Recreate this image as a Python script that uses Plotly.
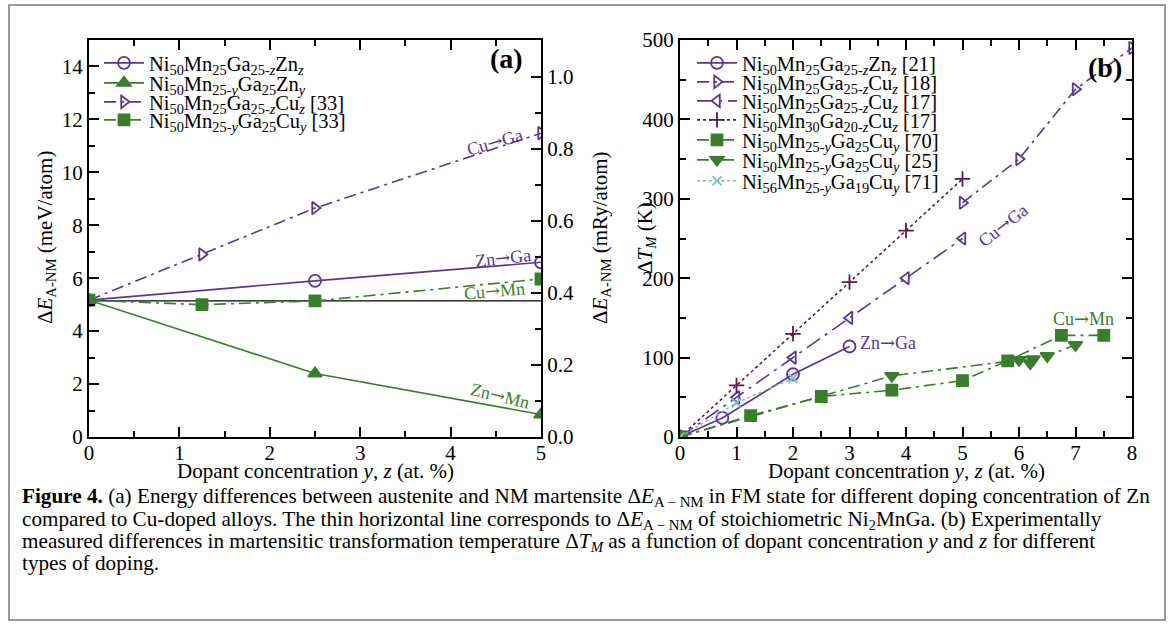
import plotly.graph_objects as go

W, H = 1171, 630

# ---------------- data: panel (a) ----------------
a_x3 = [0, 2.5, 5]
a_x4 = [0, 1.25, 2.5, 5]
a_zn_ga = [5.17, 5.9, 6.6]
a_zn_mn = [5.17, 2.4, 0.85]
a_cu_ga = [5.17, 6.9, 8.65, 11.48]
a_cu_mn = [5.17, 5.0, 5.14, 5.97]
a_stoich = [5.14, 5.14]
a_stoich_x = [0, 5]
MEV_PER_MRY = 13.6057

# ---------------- data: panel (b) ----------------
b_zn21_x = [0, 0.75, 2, 3]
b_zn21_y = [0, 24, 79, 114]
b_cu18_x = [5, 6, 7, 8]
b_cu18_y = [295, 350, 438, 490]
b_cu17_x = [0, 1, 2, 3, 4, 5]
b_cu17_y = [0, 50, 100, 150, 200, 250]
b_mn30_x = [0, 1, 2, 3, 4, 5]
b_mn30_y = [0, 65, 130, 195, 260, 325]
b_cu70_x = [0, 1.25, 2.5, 3.75, 5, 5.8, 6.75, 7.5]
b_cu70_y = [0, 27, 51, 59, 71, 96, 128, 128]
b_cu25_x = [0, 3.75, 6, 6.2, 6.25, 6.5, 7]
b_cu25_y = [0, 77, 97, 93, 98, 102, 116]
b_cu71_x = [0, 1, 2]
b_cu71_y = [0, 43, 74]

PURPLE = "#5b3596"
GREEN = "#3a7d2c"
DARKP = "#5a1a4a"
CYAN = "#78c0c0"
FONT = "Liberation Serif"
DASHDOT = "12px,5px,3px,5px"

fig = go.Figure()

LEG_A_Y = [63, 83, 102, 120]
LEG_B_Y = [63, 82, 101, 120, 140, 160, 181]
legends = {}
nleg = [0]

def new_legend(xpx, ypx):
    nleg[0] += 1
    key = "legend" if nleg[0] == 1 else f"legend{nleg[0]}"
    legends[key] = dict(x=xpx / W, y=1 - ypx / H, xanchor="left", yanchor="middle",
                        bgcolor="rgba(0,0,0,0)", borderwidth=0,
                        font=dict(family=FONT, size=20.5, color="black"),
                        itemwidth=40)
    return key

def add(x, y, name, color, dash, symbol, xa, ya, leg, size=10, lw=1.6):
    fig.add_trace(go.Scatter(
        x=x, y=y, name=name, mode="lines+markers",
        line=dict(color=color, width=lw, dash=dash),
        marker=dict(symbol=symbol, size=size, color=color,
                    line=dict(color=color, width=1.8)),
        xaxis=xa, yaxis=ya, legend=leg, showlegend=True))

# panel (a)
fig.add_trace(go.Scatter(x=a_stoich_x, y=a_stoich, mode="lines",
                         line=dict(color="black", width=1.2),
                         showlegend=False, xaxis="x", yaxis="y"))
LAX = 99
add(a_x3, a_zn_ga, "Ni<sub>50</sub>Mn<sub>25</sub>Ga<sub>25-<i>z</i></sub>Zn<sub><i>z</i></sub>",
    PURPLE, "solid", "circle-open", "x", "y", new_legend(LAX, LEG_A_Y[0]), 12)
add(a_x3, a_zn_mn, "Ni<sub>50</sub>Mn<sub>25-<i>y</i></sub>Ga<sub>25</sub>Zn<sub><i>y</i></sub>",
    GREEN, "solid", "triangle-up", "x", "y", new_legend(LAX, LEG_A_Y[1]), 12)
add(a_x4, a_cu_ga, "Ni<sub>50</sub>Mn<sub>25</sub>Ga<sub>25-<i>z</i></sub>Cu<sub><i>z</i></sub> [33]",
    PURPLE, DASHDOT, "triangle-right-open", "x", "y", new_legend(LAX, LEG_A_Y[2]), 11)
add(a_x4, a_cu_mn, "Ni<sub>50</sub>Mn<sub>25-<i>y</i></sub>Ga<sub>25</sub>Cu<sub><i>y</i></sub> [33]",
    GREEN, DASHDOT, "square", "x", "y", new_legend(LAX, LEG_A_Y[3]), 11)

# panel (b)
LBX = 692
add(b_zn21_x, b_zn21_y, "Ni<sub>50</sub>Mn<sub>25</sub>Ga<sub>25-<i>z</i></sub>Zn<sub><i>z</i></sub> [21]",
    PURPLE, "solid", "circle-open", "x2", "y2", new_legend(LBX, LEG_B_Y[0]), 12)
add(b_cu18_x, b_cu18_y, "Ni<sub>50</sub>Mn<sub>25</sub>Ga<sub>25-<i>z</i></sub>Cu<sub><i>z</i></sub> [18]",
    PURPLE, DASHDOT, "triangle-right-open", "x2", "y2", new_legend(LBX, LEG_B_Y[1]), 11)
add(b_cu17_x, b_cu17_y, "Ni<sub>50</sub>Mn<sub>25</sub>Ga<sub>25-<i>z</i></sub>Cu<sub><i>z</i></sub> [17]",
    PURPLE, "16px,6px,3px,6px", "triangle-left-open", "x2", "y2", new_legend(LBX, LEG_B_Y[2]), 11)
add(b_mn30_x, b_mn30_y, "Ni<sub>50</sub>Mn<sub>30</sub>Ga<sub>20-<i>z</i></sub>Cu<sub><i>z</i></sub> [17]",
    DARKP, "dot", "cross-thin", "x2", "y2", new_legend(LBX, LEG_B_Y[3]), 11)
add(b_cu70_x, b_cu70_y, "Ni<sub>50</sub>Mn<sub>25-<i>y</i></sub>Ga<sub>25</sub>Cu<sub><i>y</i></sub> [70]",
    GREEN, DASHDOT, "square", "x2", "y2", new_legend(LBX, LEG_B_Y[4]), 11)
add(b_cu25_x, b_cu25_y, "Ni<sub>50</sub>Mn<sub>25-<i>y</i></sub>Ga<sub>25</sub>Cu<sub><i>y</i></sub> [25]",
    GREEN, DASHDOT, "triangle-down", "x2", "y2", new_legend(LBX, LEG_B_Y[5]), 12)
add(b_cu71_x, b_cu71_y, "Ni<sub>56</sub>Mn<sub>25-<i>y</i></sub>Ga<sub>19</sub>Cu<sub><i>y</i></sub> [71]",
    CYAN, "dot", "x-thin", "x2", "y2", new_legend(LBX, LEG_B_Y[6]), 9, 1.5)

# dummy trace to activate yaxis3
fig.add_trace(go.Scatter(x=[0], y=[0], xaxis="x", yaxis="y3", mode="markers",
                         marker=dict(opacity=0), showlegend=False, hoverinfo="skip"))

ydom = [1 - 437 / H, 1 - 40 / H]
tickfont = dict(family=FONT, size=21, color="black")

def axis(dom, rng, dtick, mdtick, mirror=True, **kw):
    d = dict(domain=dom, range=rng, dtick=dtick, tick0=0, automargin=False,
             ticks="inside", ticklen=10, tickwidth=1.5, tickcolor="black",
             minor=dict(ticks="inside", ticklen=6, dtick=mdtick, tickwidth=1.5,
                        tickcolor="black", showgrid=False),
             showline=True, linecolor="black", linewidth=2,
             mirror="ticks" if mirror else False,
             showgrid=False, zeroline=False, tickfont=tickfont)
    d.update(kw)
    return d

layout = dict(
    width=W, height=H, margin=dict(l=0, r=0, t=0, b=0, autoexpand=False),
    template="none",
    paper_bgcolor="white", plot_bgcolor="white",
    font=dict(family=FONT, color="black"),
    xaxis=axis([89 / W, 541 / W], [0, 5], 1, 0.5, anchor="y", ticklabelstandoff=-4),
    yaxis=axis(ydom, [0, 15], 2, 1, mirror=False, anchor="x"),
    yaxis3=axis(ydom, [0, 15 / MEV_PER_MRY], 0.2, 0.1, mirror=False,
                overlaying="y", side="right", anchor="x", tickformat=".1f"),
    xaxis2=axis([680 / W, 1132 / W], [0, 8], 1, 0.5, anchor="y2", ticklabelstandoff=-4),
    yaxis2=axis(ydom, [0, 500], 100, 50, anchor="x2"),
    showlegend=True,
)
layout.update(legends)
fig.update_layout(**layout)

def ann(text, x, y, xref, yref, color="black", size=18, angle=0, bold=False):
    fig.add_annotation(text=f"<b>{text}</b>" if bold else text, x=x, y=y,
                       xref=xref, yref=yref, showarrow=False, textangle=angle,
                       xanchor="center", yanchor="middle",
                       font=dict(family=FONT, size=size, color=color))

def pann(text, xpx, ypx, size=21, angle=0):
    ann(text, xpx / W, 1 - ypx / H, "paper", "paper", size=size, angle=angle)

# axis titles
xt = "Dopant concentration <i>y</i>, <i>z</i> (at. %)"
pann(xt, 315, 471)
pann(xt, 906, 471)
pann("Δ<i>E</i><sub>A-NM</sub> (meV/atom)", 46, 238, angle=-90)
pann("Δ<i>E</i><sub>A-NM</sub> (mRy/atom)", 601, 238, angle=-90)
pann("Δ<i>T<sub>M</sub></i> (K)", 646, 238, angle=-90)

ARROW = "<span style='font-family:DejaVu Serif'>→</span>"
# panel labels
ann("(a)", 4.62, 14.3, "x", "y", size=28, bold=True)
ann("(b)", 7.52, 466, "x2", "y2", size=28, bold=True)
# panel (a) curve labels
ann(f"Cu{ARROW}Ga", 4.49, 11.18, "x", "y", PURPLE, 18, -16)
ann(f"Zn{ARROW}Ga", 4.58, 6.8, "x", "y", PURPLE, 18, -6)
ann(f"Cu{ARROW}Mn", 4.49, 5.52, "x", "y", GREEN, 18, -5)
ann(f"Zn{ARROW}Mn", 4.55, 1.55, "x", "y", GREEN, 18, 14)
# panel (b) curve labels
ann(f"Zn{ARROW}Ga", 3.68, 119, "x2", "y2", PURPLE, 18)
ann(f"Cu{ARROW}Mn", 7.15, 149, "x2", "y2", GREEN, 18)
ann(f"Cu{ARROW}Ga", 5.7, 267, "x2", "y2", PURPLE, 18, -38)

# caption
cap = [
    "<b>Figure 4.</b> (a) Energy differences between austenite and NM martensite Δ<i>E</i><sub>A − NM</sub> in FM state for different doping concentration of Zn",
    "compared to Cu-doped alloys. The thin horizontal line corresponds to Δ<i>E</i><sub>A − NM</sub> of stoichiometric Ni<sub>2</sub>MnGa. (b) Experimentally",
    "measured differences in martensitic transformation temperature Δ<i>T<sub>M</sub></i> as a function of dopant concentration <i>y</i> and <i>z</i> for different",
    "types of doping.",
]
cap_y = [497, 520, 542, 563]
for line, yy in zip(cap, cap_y):
    fig.add_annotation(text=line, x=20 / W, y=1 - yy / H,
                       xref="paper", yref="paper", xanchor="left", yanchor="middle",
                       showarrow=False, font=dict(family=FONT, size=21.2, color="black"))

# frame
fig.add_shape(type="rect", xref="paper", yref="paper",
              x0=9 / W, x1=1165 / W, y0=1 - 620 / H, y1=1 - 5 / H,
              line=dict(color="#9a9a9a", width=2), fillcolor="rgba(0,0,0,0)",
              layer="below")

fig.write_html("out.html")
